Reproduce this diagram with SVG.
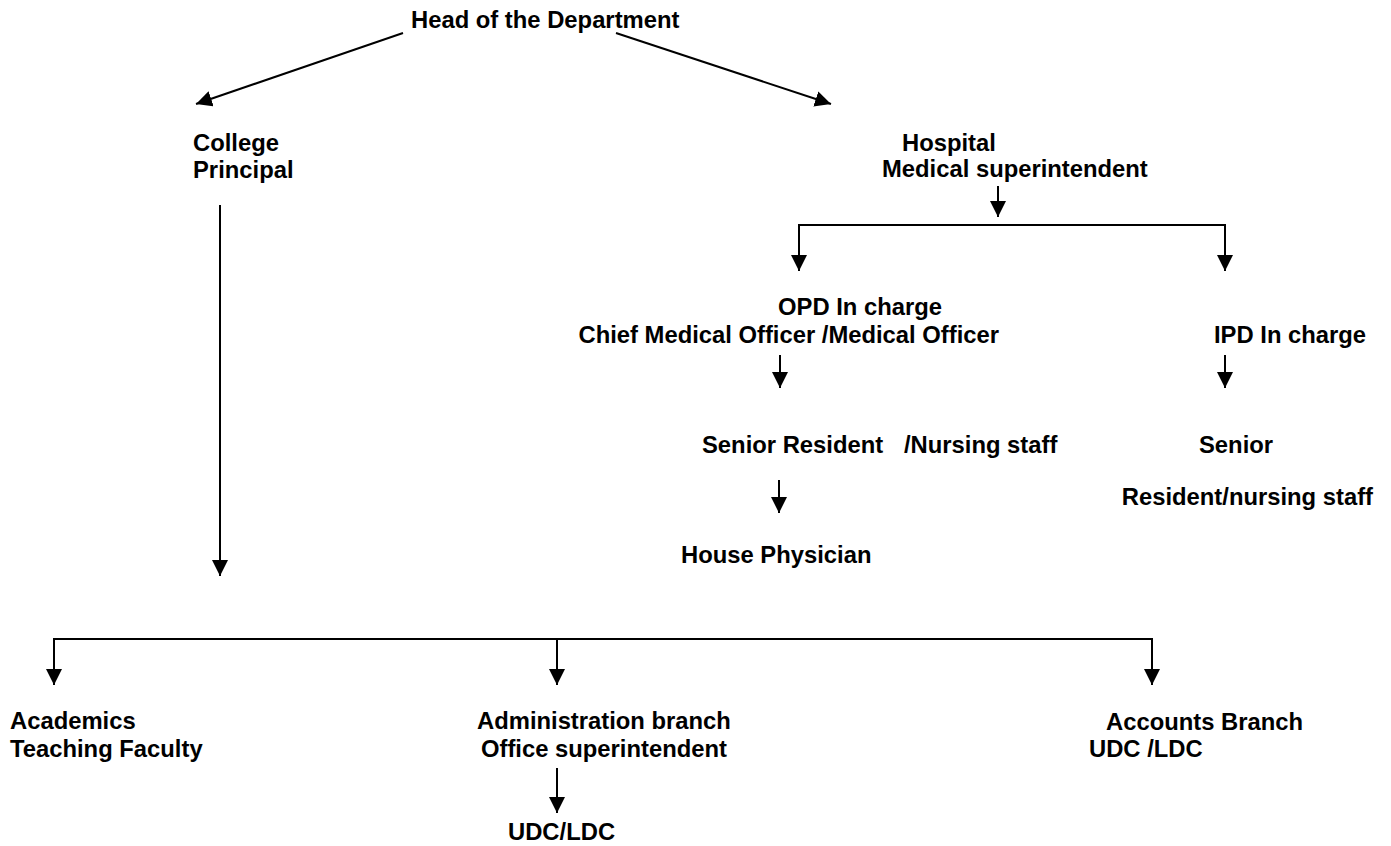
<svg xmlns="http://www.w3.org/2000/svg" width="1391" height="846" viewBox="0 0 1391 846">
<style>
text{font-family:"Liberation Sans",Arial,sans-serif;font-weight:bold;font-size:23.8px;fill:#000}
.c{fill:none;stroke:#000;stroke-width:2}
</style>
<defs>
<marker id="ah" markerUnits="userSpaceOnUse" markerWidth="17" markerHeight="17" refX="16" refY="8" orient="auto">
<path d="M0,0 L16,8 L0,16 z" fill="#000"/>
</marker>
</defs>
<rect width="1391" height="846" fill="#fff"/>
<g id="connectors">
<path class="c" d="M403,33 L196,104" marker-end="url(#ah)"/>
<path class="c" d="M616,33 L831,104" marker-end="url(#ah)"/>
<path class="c" d="M998,186 V217" marker-end="url(#ah)"/>
<path class="c" d="M998,225 H799 V271" marker-end="url(#ah)"/>
<path class="c" d="M998,225 H1225 V271" marker-end="url(#ah)"/>
<path class="c" d="M780,355 V388" marker-end="url(#ah)"/>
<path class="c" d="M779,480 V513" marker-end="url(#ah)"/>
<path class="c" d="M1225,355 V388" marker-end="url(#ah)"/>
<path class="c" d="M220,205 V576" marker-end="url(#ah)"/>
<path class="c" d="M557,639 H54 V685" marker-end="url(#ah)"/>
<path class="c" d="M557,639 V685" marker-end="url(#ah)"/>
<path class="c" d="M557,639 H1152 V685" marker-end="url(#ah)"/>
<path class="c" d="M557,768 V813" marker-end="url(#ah)"/>
</g>
<g id="head"><text x="411" y="28">Head of the Department</text></g>
<g id="college"><text x="193" y="151">College</text><text x="193" y="178">Principal</text></g>
<g id="hospital"><text x="902" y="151">Hospital</text><text x="882" y="177">Medical superintendent</text></g>
<g id="opd"><text x="778" y="315">OPD In charge</text><text x="999" y="343" text-anchor="end">Chief Medical Officer /Medical Officer</text></g>
<g id="ipd"><text x="1214" y="343">IPD In charge</text></g>
<g id="senior-resident"><text x="702" y="453">Senior Resident</text><text x="904" y="453">/Nursing staff</text></g>
<g id="ipd-senior"><text x="1199" y="453">Senior</text><text x="1373" y="505" text-anchor="end">Resident/nursing staff</text></g>
<g id="house-physician"><text x="681" y="563">House Physician</text></g>
<g id="academics"><text x="10" y="729">Academics</text><text x="10" y="757">Teaching Faculty</text></g>
<g id="administration"><text x="477" y="729">Administration branch</text><text x="481" y="757">Office superintendent</text></g>
<g id="udc-ldc"><text x="508" y="840">UDC/LDC</text></g>
<g id="accounts"><text x="1106" y="730">Accounts Branch</text><text x="1089" y="757">UDC /LDC</text></g>
</svg>
